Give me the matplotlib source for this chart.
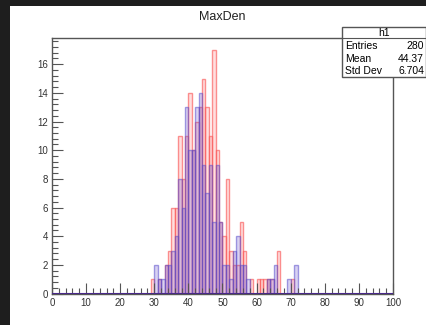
import matplotlib
matplotlib.use("Agg")
from matplotlib import pyplot as plt
from matplotlib.patches import Rectangle
from matplotlib.ticker import MultipleLocator

# bin lower edges and counts (bin width 1)
red_bins = [29, 31, 33, 34, 35, 36, 37, 38, 39, 40, 41, 42, 43, 44, 45, 46, 47, 48, 49, 50,
            51, 52, 53, 54, 55, 56, 58, 60, 61, 62, 63, 64, 66, 70]
red_counts = [1, 1, 2, 3, 6, 6, 11, 8, 11, 14, 10, 12, 13, 15, 13, 11, 17, 10, 5, 4,
              8, 3, 2, 2, 5, 3, 1, 1, 1, 1, 1, 1, 3, 1]

blue_bins = [30, 31, 32, 33, 34, 35, 36, 37, 38, 39, 40, 41, 42, 43, 44, 45, 46, 47, 48, 49,
             50, 51, 52, 53, 54, 55, 56, 57, 63, 64, 65, 69, 71]
blue_counts = [2, 1, 1, 2, 2, 3, 4, 8, 6, 13, 10, 10, 13, 14, 9, 7, 9, 5, 9, 5,
               2, 2, 1, 3, 4, 2, 2, 1, 1, 1, 2, 1, 2]

stat_names = ["Entries", "Mean", "Std Dev"]
stat_values = ["280", "44.37", "6.704"]

W, H = 427, 325
fig = plt.figure(figsize=(W / 100, H / 100), dpi=100)
fig.patch.set_facecolor("#1e1e1e")
fig.add_artist(Rectangle((10 / W, 0), 1, 1 - 6 / H, transform=fig.transFigure,
                         facecolor="white", edgecolor="none", zorder=-1))

ax = fig.add_axes([52 / W, (H - 293.5) / H, (393 - 52) / W, (293.5 - 37.7) / H])
ax.bar(red_bins, red_counts, width=1, align="edge",
       facecolor=(1, 0.5, 0.5, 0.25), edgecolor=(0.98, 0.35, 0.35, 0.65), linewidth=1)
ax.bar(blue_bins, blue_counts, width=1, align="edge",
       facecolor=(0.4, 0.3, 0.8, 0.25), edgecolor=(0.35, 0.3, 0.8, 0.55), linewidth=1)
ax.axhline(0, color="#4a2a8a", lw=1.5, zorder=5)

ax.set_xlim(0, 100)
ax.set_ylim(0, 17.85)
ax.xaxis.set_major_locator(MultipleLocator(10))
ax.xaxis.set_minor_locator(MultipleLocator(2))
ax.yaxis.set_major_locator(MultipleLocator(2))
ax.yaxis.set_minor_locator(MultipleLocator(0.4))
ax.tick_params(which="both", direction="in", color="#555555", width=0.8,
               labelsize=7, labelcolor="#333333", labelfontfamily="Liberation Sans")
ax.tick_params(which="major", length=8, pad=3)
ax.tick_params(which="minor", length=4)
for s in ax.spines.values():
    s.set_color("#555555")
    s.set_linewidth(1)

fig.text(222 / W, 1 - 17 / H, "MaxDen", ha="center", va="center",
         fontsize=9, family="Liberation Sans", color="#222222")

# stats box
bx0, bx1, by0, by1, bh = 342, 426, 27, 77, 38
fig.add_artist(Rectangle((bx0 / W, 1 - by1 / H), (bx1 - bx0) / W, (by1 - by0) / H,
                         transform=fig.transFigure, facecolor="white",
                         edgecolor="#555555", lw=1, zorder=10))
fig.add_artist(plt.Line2D([bx0 / W, bx1 / W], [1 - bh / H, 1 - bh / H],
                          transform=fig.transFigure, color="#555555", lw=0.8, zorder=11))
fig.text((bx0 + bx1) / 2 / W, 1 - 32.5 / H, "h1", ha="center", va="center",
         fontsize=7.5, family="Liberation Sans", zorder=12)
for i, (n, v) in enumerate(zip(stat_names, stat_values)):
    y = 1 - (46 + i * 12.5) / H
    fig.text(345 / W, y, n, ha="left", va="center", fontsize=7.5,
             family="Liberation Sans", zorder=12)
    fig.text(424 / W, y, v, ha="right", va="center", fontsize=7.5,
             family="Liberation Sans", zorder=12)

fig.savefig("out.png", dpi=100, facecolor=fig.get_facecolor())
